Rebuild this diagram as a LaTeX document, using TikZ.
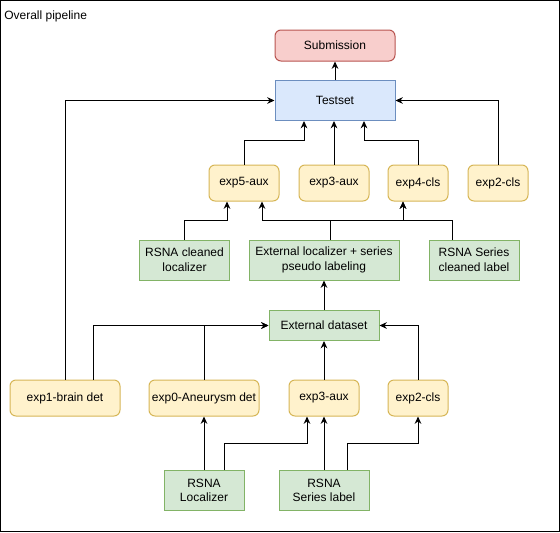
\documentclass[tikz,border=0pt]{standalone}
\usepackage{fontspec}
\setmainfont{Liberation Sans}
\usetikzlibrary{arrows.meta,positioning}

\definecolor{yelfill}{HTML}{FFF2CC}
\definecolor{yeldraw}{HTML}{D6B656}
\definecolor{grnfill}{HTML}{D5E8D4}
\definecolor{grndraw}{HTML}{82B366}
\definecolor{blufill}{HTML}{DAE8FC}
\definecolor{bludraw}{HTML}{6C8EBF}
\definecolor{redfill}{HTML}{F8CECC}
\definecolor{reddraw}{HTML}{B85450}

\begin{document}
\begin{tikzpicture}[x=0.75pt,y=-0.75pt,
  every node/.style={font=\fontsize{9}{11}\selectfont, inner sep=0pt, align=center},
  expbox/.style={draw=yeldraw, fill=yelfill, line width=0.75pt, rounded corners=4.5pt, minimum height=27pt},
  databox/.style={draw=grndraw, fill=grnfill, line width=0.75pt, minimum height=30pt},
  link/.style={-{Stealth[length=5.5pt,width=5pt]}, line width=0.75pt}]
\useasboundingbox (0,0) rectangle (560,532);
\draw[line width=1.1pt] (0.75,0.75) rectangle (559.25,531.25);
\node[anchor=west] (title) at (4,16) {Overall pipeline};
% Output
\node[draw=reddraw, fill=redfill, line width=0.75pt, rounded corners=4.5pt, minimum width=90pt, minimum height=23.25pt] (sub) at (335,45.5) {Submission};
\node[draw=bludraw, fill=blufill, line width=0.75pt, minimum width=90pt, minimum height=30pt] (test) at (335,100.5) {Testset};
% Models on the testset
\node[expbox, minimum width=52.5pt] (a5) at (244,183) {exp5-aux};
\node[expbox, minimum width=52.5pt] (a3) at (334,183) {exp3-aux};
\node[expbox, minimum width=45pt] (c4) at (418,183) {exp4-cls};
\node[expbox, minimum width=45pt] (c2) at (498,183) {exp2-cls};
% Cleaned data
\node[databox, minimum width=67.5pt] (rcl) at (184.5,260) {RSNA cleaned\\localizer};
\node[databox, minimum width=112.5pt] (ext) at (324,260) {External localizer + series\\pseudo labeling};
\node[databox, minimum width=67.5pt] (rsc) at (474,260) {RSNA Series\\cleaned label};
\node[databox, minimum width=82.5pt, minimum height=22.5pt] (eds) at (324,325.5) {External dataset};
% First stage models
\node[expbox, minimum width=82.5pt] (b1) at (65,398) {exp1-brain det};
\node[expbox, minimum width=82.5pt] (b0) at (204,398) {exp0-Aneurysm det};
\node[expbox, minimum width=52.5pt] (b3) at (324,398) {exp3-aux};
\node[expbox, minimum width=45pt] (b2) at (418,398) {exp2-cls};
% RSNA data
\node[databox, minimum width=60pt] (rl) at (204,490.5) {RSNA\\Localizer};
\node[databox, minimum width=67.5pt] (rs) at (324,490.5) {RSNA\\Series label};
% Connectors
\draw[link] (test) -- (sub);
\draw[link] (b1.north) |- (test.west);
\draw[link] (c2.north) |- (test.east);
\draw[link] (a5.north) -- ++(0,-24) -| ([xshift=-23.25pt]test.south);
\draw[link] (a3.north) -- (a3.north |- test.south);
\draw[link] (c4.north) -- ++(0,-24) -| ([xshift=21.75pt]test.south);
\draw[link] (rcl.north) -- ++(0,-19) -| ([xshift=-12.75pt]a5.south);
\draw[link] ([xshift=4.5pt]ext.north) -- ++(0,-19) -| ([xshift=13.5pt]a5.south);
\draw[link] ([xshift=4.5pt]ext.north) -- ++(0,-19) -| ([xshift=-11.25pt]c4.south);
\draw[link] ([xshift=-16.5pt]rsc.north) -- ++(0,-19) -| ([xshift=-11.25pt]c4.south);
\draw[link] (eds) -- (ext);
\draw[link] ([xshift=21pt]b1.north) |- (eds.west);
\draw[link] (b0.north) |- (eds.west);
\draw[link] (b3) -- (eds);
\draw[link] (b2.north) |- (eds.east);
\draw[link] (rl) -- (b0);
\draw[link] ([xshift=15pt]rl.north) -- ++(0,-27) -| ([xshift=-12.75pt]b3.south);
\draw[link] (rs) -- (b3);
\draw[link] ([xshift=17.25pt]rs.north) -- ++(0,-27) -| (b2.south);
\end{tikzpicture}
\end{document}
